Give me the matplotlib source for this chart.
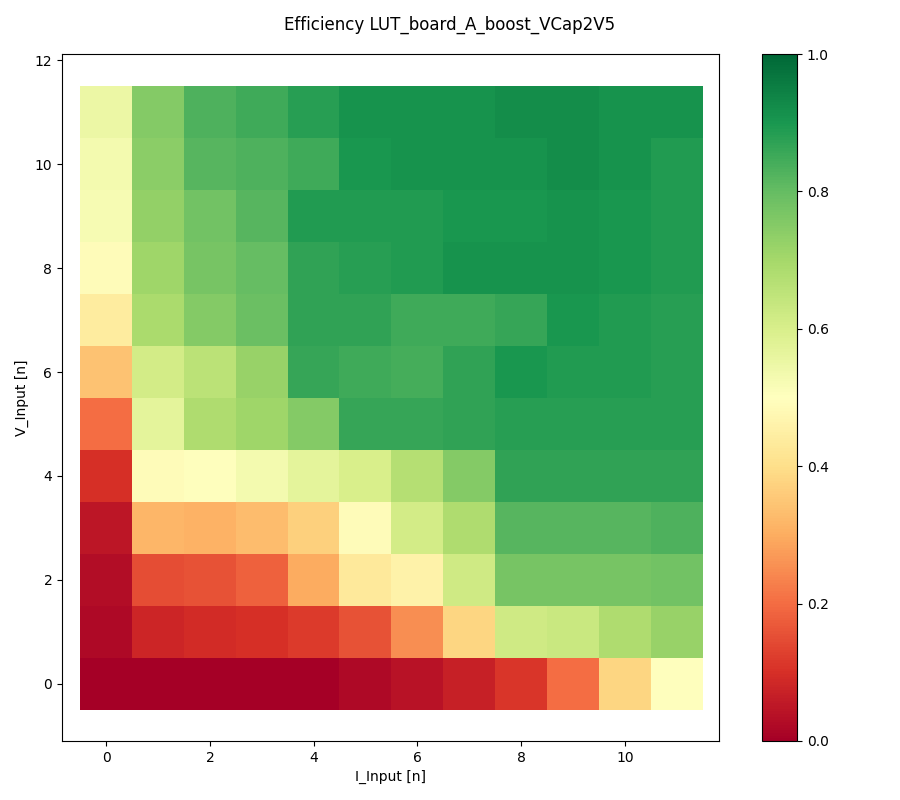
import numpy as np
import matplotlib
matplotlib.use("Agg")
import matplotlib.pyplot as plt

# efficiency LUT, rows = V_Input index 0..11 (bottom to top), cols = I_Input index 0..11
eff_v0 = [0.00, 0.00, 0.00, 0.00, 0.00, 0.02, 0.04, 0.07, 0.11, 0.20, 0.38, 0.50]
eff_v1 = [0.02, 0.08, 0.09, 0.10, 0.12, 0.16, 0.25, 0.38, 0.62, 0.63, 0.68, 0.72]
eff_v2 = [0.03, 0.15, 0.16, 0.18, 0.30, 0.43, 0.46, 0.62, 0.77, 0.77, 0.77, 0.78]
eff_v3 = [0.05, 0.32, 0.31, 0.33, 0.37, 0.49, 0.61, 0.68, 0.82, 0.82, 0.82, 0.83]
eff_v4 = [0.10, 0.49, 0.50, 0.53, 0.57, 0.60, 0.67, 0.75, 0.87, 0.87, 0.87, 0.87]
eff_v5 = [0.20, 0.57, 0.68, 0.71, 0.75, 0.86, 0.86, 0.87, 0.88, 0.88, 0.88, 0.88]
eff_v6 = [0.34, 0.61, 0.66, 0.72, 0.86, 0.85, 0.84, 0.87, 0.90, 0.89, 0.89, 0.88]
eff_v7 = [0.44, 0.69, 0.75, 0.79, 0.87, 0.87, 0.85, 0.85, 0.86, 0.90, 0.89, 0.88]
eff_v8 = [0.49, 0.71, 0.77, 0.80, 0.87, 0.88, 0.89, 0.91, 0.91, 0.91, 0.90, 0.89]
eff_v9 = [0.52, 0.73, 0.78, 0.82, 0.89, 0.89, 0.89, 0.90, 0.90, 0.91, 0.90, 0.89]
eff_v10 = [0.53, 0.74, 0.82, 0.83, 0.85, 0.90, 0.91, 0.91, 0.91, 0.92, 0.91, 0.89]
eff_v11 = [0.55, 0.75, 0.83, 0.85, 0.88, 0.91, 0.91, 0.91, 0.92, 0.92, 0.91, 0.91]

lut = np.array([eff_v0, eff_v1, eff_v2, eff_v3, eff_v4, eff_v5,
                eff_v6, eff_v7, eff_v8, eff_v9, eff_v10, eff_v11])

fig = plt.figure(figsize=(9, 8), dpi=100)
ax = fig.add_axes([62 / 900, 59 / 800, 657 / 900, 687 / 800])
cax = fig.add_axes([762 / 900, 59 / 800, 35 / 900, 687 / 800])

im = ax.imshow(lut, cmap="RdYlGn", vmin=0, vmax=1, origin="lower", aspect="auto")
ax.set_xlim(-0.85, 11.81)
ax.set_ylim(-1.1, 12.12)
ax.set_xlabel("I_Input [n]")
ax.set_ylabel("V_Input [n]")
fig.colorbar(im, cax=cax)
fig.suptitle("Efficiency LUT_board_A_boost_VCap2V5", fontsize=12, y=0.98)

plt.savefig("out.png", dpi=100)
plt.close()
